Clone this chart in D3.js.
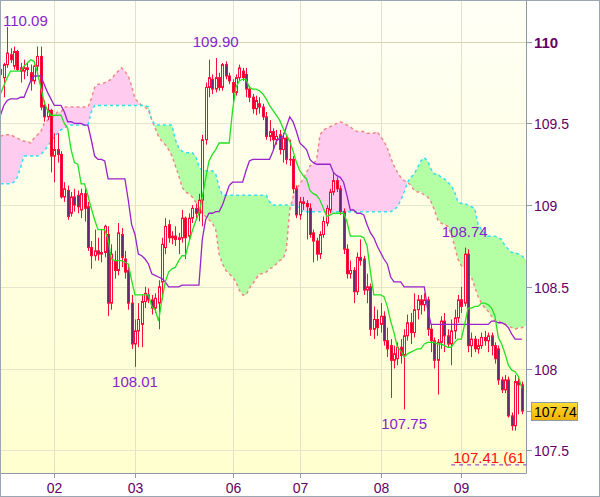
<!DOCTYPE html>
<html><head><meta charset="utf-8">
<script src="https://cdn.jsdelivr.net/npm/d3@7"></script>
<style>body{margin:0;background:#fff}svg{display:block}</style>
</head><body>
<svg id="c" width="600" height="497"></svg>
<script>
// ---------- data ----------
const days = ["02","03","06","07","08","09"];
const dayIndex = [16,40,69,89,113,137];
const priceTicks = [107.5,108,108.5,109,109.5,110];
const boldTick = 110;
const lastPrice = 107.74;
const fibLevel = 107.41, fibText = "107.41 (61.", fibStart = 134;
const highMarks = [2,64,138];
const lowMarks = [40,120];

const open = [109.80,109.78,109.86,109.92,109.85,109.94,109.84,109.82,109.84,109.81,
109.76,109.85,109.91,109.61,109.54,109.58,109.30,109.34,109.31,109.05,
109.09,108.95,109.05,109.06,108.97,109.07,108.99,108.74,108.69,108.72,
108.70,108.71,108.82,108.40,108.66,108.60,108.82,108.67,108.60,108.40,
108.15,108.23,108.27,108.41,108.45,108.42,108.37,108.40,108.53,108.74,
108.88,108.80,108.81,108.79,108.80,108.92,108.81,108.92,108.98,108.95,
109.03,109.40,109.72,109.77,109.71,109.78,109.72,109.86,109.79,109.75,
109.69,109.78,109.82,109.80,109.71,109.66,109.59,109.62,109.60,109.54,
109.42,109.45,109.40,109.43,109.34,109.41,109.28,109.28,109.10,108.94,
109.02,109.01,108.98,108.83,108.78,108.70,108.82,108.89,108.97,109.08,
109.15,109.10,108.96,108.73,108.58,108.60,108.47,108.68,108.67,108.48,
108.50,108.24,108.30,108.27,108.32,108.17,108.14,108.05,108.06,108.13,
108.08,108.20,108.28,108.22,108.36,108.42,108.39,108.42,108.24,108.17,
108.05,108.16,108.29,108.20,108.15,108.23,108.31,108.42,108.40,108.70,
108.14,108.18,108.12,108.14,108.19,108.17,108.20,108.14,108.12,107.93,
107.87,107.93,107.71,107.65,107.92,107.90];
const high = [109.89,109.87,110.09,109.96,109.97,109.95,109.87,109.89,109.87,109.86,
109.86,109.97,109.97,109.64,109.62,109.59,109.44,109.44,109.33,109.14,
109.12,109.08,109.10,109.09,109.10,109.11,109.02,108.78,108.85,108.80,
108.85,108.88,108.87,108.76,108.72,108.89,108.86,108.72,108.63,108.45,
108.30,108.40,108.45,108.50,108.49,108.45,108.46,108.54,108.80,108.92,
108.91,108.84,108.87,108.83,108.97,108.93,108.95,109.00,109.01,109.07,
109.43,109.75,109.89,109.80,109.90,109.81,109.87,109.88,109.81,109.77,
109.80,109.86,109.84,109.84,109.73,109.68,109.67,109.66,109.62,109.57,
109.52,109.47,109.46,109.46,109.44,109.43,109.40,109.30,109.12,109.05,
109.05,109.03,109.01,108.85,108.80,108.84,108.93,109.00,109.10,109.20,
109.17,109.12,108.98,108.76,108.66,108.62,108.71,108.79,108.69,108.58,
108.52,108.38,108.36,108.40,108.35,108.25,108.18,108.14,108.16,108.18,
108.24,108.33,108.34,108.46,108.45,108.45,108.46,108.44,108.27,108.19,
108.18,108.32,108.34,108.24,108.30,108.36,108.45,108.50,108.74,108.73,
108.22,108.20,108.18,108.22,108.23,108.22,108.22,108.16,108.14,107.95,
107.96,107.95,107.73,107.96,107.95,107.92];
const low = [109.68,109.66,109.84,109.87,109.83,109.82,109.75,109.77,109.79,109.70,
109.74,109.82,109.58,109.51,109.52,109.20,109.14,109.26,109.04,109.02,
108.91,108.93,108.96,108.95,108.92,108.90,108.72,108.61,108.66,108.66,
108.65,108.68,108.32,108.36,108.55,108.57,108.62,108.55,108.36,108.12,
108.01,108.13,108.13,108.37,108.40,108.33,108.34,108.24,108.42,108.70,
108.77,108.76,108.75,108.70,108.77,108.67,108.78,108.89,108.91,108.90,
108.87,109.37,109.66,109.68,109.69,109.70,109.70,109.77,109.74,109.63,
109.67,109.76,109.76,109.66,109.63,109.56,109.55,109.56,109.52,109.40,
109.39,109.34,109.37,109.31,109.26,109.25,109.24,109.07,108.92,108.91,
108.97,108.79,108.80,108.65,108.66,108.67,108.80,108.87,108.95,109.06,
109.08,108.94,108.70,108.55,108.55,108.40,108.45,108.63,108.45,108.40,
108.20,108.18,108.20,108.22,108.14,108.07,107.82,108.00,108.02,108.03,
107.75,108.17,108.15,108.19,108.30,108.33,108.35,108.20,108.10,108.00,
107.84,108.12,108.10,108.13,108.02,108.18,108.28,108.34,108.38,108.10,
108.07,108.10,108.09,108.12,108.14,108.10,108.08,108.03,107.90,107.85,
107.85,107.70,107.62,107.62,107.72,107.72];
const close = [109.83,109.86,109.93,109.89,109.94,109.83,109.82,109.84,109.83,109.76,
109.85,109.91,109.60,109.54,109.58,109.30,109.34,109.31,109.05,109.10,
108.93,109.05,109.00,108.99,109.07,108.98,108.74,108.69,108.72,108.70,
108.71,108.87,108.40,108.70,108.60,108.83,108.68,108.59,108.40,108.15,
108.23,108.30,108.41,108.46,108.42,108.37,108.43,108.50,108.76,108.87,
108.80,108.81,108.79,108.80,108.92,108.80,108.92,108.98,108.95,109.03,
109.40,109.72,109.78,109.71,109.78,109.72,109.86,109.79,109.76,109.69,
109.78,109.84,109.78,109.71,109.66,109.59,109.64,109.60,109.54,109.42,
109.45,109.40,109.42,109.34,109.41,109.28,109.28,109.10,108.94,109.02,
109.01,108.99,108.82,108.78,108.70,108.82,108.90,108.98,109.08,109.15,
109.10,108.96,108.73,108.58,108.60,108.47,108.68,108.66,108.48,108.50,
108.24,108.30,108.25,108.32,108.17,108.12,108.05,108.09,108.13,108.08,
108.20,108.28,108.22,108.36,108.42,108.39,108.42,108.24,108.17,108.05,
108.16,108.29,108.20,108.15,108.23,108.31,108.42,108.38,108.70,108.14,
108.18,108.12,108.14,108.19,108.17,108.20,108.14,108.06,107.93,107.87,
107.93,107.71,107.65,107.92,107.90,107.74];
const tenkan = [109.68,109.73,109.78,109.82,109.82,109.82,109.82,109.85,109.87,109.89,
109.88,109.81,109.72,109.63,109.58,109.55,109.55,109.55,109.55,109.50,
109.47,109.34,109.26,109.25,109.13,109.13,109.06,108.98,108.91,108.85,
108.85,108.85,108.79,108.67,108.66,108.66,108.66,108.65,108.64,108.54,
108.45,108.45,108.45,108.45,108.45,108.38,108.36,108.29,108.42,108.53,
108.59,108.61,108.62,108.66,108.69,108.69,108.77,108.84,108.90,108.95,
109.05,109.16,109.27,109.31,109.34,109.38,109.38,109.38,109.38,109.58,
109.72,109.76,109.77,109.77,109.72,109.71,109.71,109.70,109.68,109.65,
109.61,109.58,109.55,109.52,109.47,109.43,109.39,109.33,109.26,109.21,
109.18,109.16,109.09,109.07,109.06,109.03,108.98,108.93,108.94,108.95,
108.95,108.95,108.95,108.90,108.81,108.81,108.81,108.81,108.80,108.75,
108.59,108.45,108.45,108.45,108.44,108.38,108.29,108.22,108.13,108.11,
108.07,108.09,108.10,108.11,108.12,108.12,108.15,108.16,108.16,108.16,
108.15,108.15,108.14,108.13,108.13,108.16,108.18,108.18,108.27,108.37,
108.37,108.38,108.38,108.40,108.40,108.39,108.37,108.32,108.19,108.15,
108.09,108.02,107.99,107.98,107.95,107.88];
const kijun = [109.55,109.61,109.64,109.65,109.65,109.65,109.66,109.66,109.71,109.76,
109.79,109.79,109.79,109.74,109.69,109.65,109.61,109.61,109.61,109.57,
109.51,109.51,109.50,109.50,109.50,109.49,109.49,109.40,109.30,109.28,
109.28,109.27,109.16,109.16,109.16,109.16,109.16,109.16,109.03,108.88,
108.82,108.70,108.69,108.67,108.64,108.58,108.57,108.56,108.55,108.53,
108.50,108.50,108.50,108.50,108.51,108.51,108.51,108.51,108.51,108.51,
108.79,108.91,108.95,108.95,108.96,108.96,109.00,109.06,109.12,109.14,
109.14,109.14,109.14,109.21,109.27,109.28,109.28,109.28,109.28,109.28,
109.28,109.33,109.39,109.41,109.42,109.48,109.54,109.51,109.45,109.38,
109.36,109.34,109.28,109.26,109.25,109.25,109.25,109.25,109.25,109.20,
109.18,109.17,109.14,109.06,108.97,108.97,108.95,108.95,108.94,108.88,
108.83,108.80,108.75,108.71,108.67,108.64,108.56,108.53,108.53,108.53,
108.50,108.50,108.50,108.50,108.50,108.50,108.50,108.36,108.27,108.27,
108.27,108.27,108.27,108.27,108.27,108.27,108.27,108.27,108.27,108.27,
108.27,108.27,108.27,108.27,108.27,108.27,108.29,108.29,108.28,108.28,
108.27,108.25,108.21,108.18,108.18,108.18];
const spanA = [109.13,109.13,109.13,109.13,109.14,109.17,109.23,109.30,109.30,109.30,
109.30,109.30,109.31,109.33,109.36,109.39,109.42,109.44,109.46,109.47,
109.49,109.49,109.49,109.49,109.49,109.49,109.49,109.57,109.61,109.61,
109.61,109.61,109.61,109.61,109.61,109.61,109.61,109.61,109.61,109.61,
109.61,109.61,109.61,109.61,109.60,109.52,109.49,109.49,109.49,109.49,
109.49,109.49,109.40,109.35,109.33,109.32,109.32,109.32,109.30,109.24,
109.21,109.21,109.21,109.21,109.19,109.11,109.06,109.06,109.06,109.06,
109.06,109.06,109.06,109.06,109.06,109.06,109.06,109.06,109.06,109.06,
109.02,109.00,109.00,109.00,109.00,109.00,109.00,109.00,109.00,108.97,
108.96,108.96,108.96,108.96,108.96,108.96,108.96,108.96,108.96,108.96,
108.96,108.96,108.96,108.96,108.96,108.96,108.96,108.96,108.96,108.96,
108.96,108.96,108.96,108.96,108.96,108.96,108.96,108.97,108.99,109.03,
109.08,109.14,109.17,109.19,109.23,109.27,109.29,109.27,109.22,109.19,
109.19,109.17,109.16,109.14,109.12,109.08,109.02,109.01,109.01,109.00,
108.99,108.98,108.88,108.85,108.83,108.81,108.81,108.81,108.80,108.79,
108.75,108.73,108.71,108.71,108.70,108.69,108.67,108.66];
const spanB = [109.42,109.43,109.43,109.43,109.42,109.41,109.40,109.39,109.39,109.38,
109.41,109.43,109.45,109.50,109.52,109.54,109.55,109.57,109.57,109.60,
109.60,109.60,109.60,109.60,109.60,109.60,109.60,109.65,109.72,109.74,
109.74,109.75,109.76,109.77,109.80,109.82,109.84,109.82,109.79,109.73,
109.65,109.63,109.61,109.60,109.58,109.52,109.47,109.42,109.39,109.37,
109.34,109.30,109.24,109.18,109.11,109.08,109.07,109.05,109.02,108.99,
108.95,108.93,108.91,108.89,108.85,108.70,108.64,108.60,108.58,108.56,
108.53,108.48,108.45,108.45,108.49,108.52,108.55,108.58,108.58,108.59,
108.61,108.62,108.64,108.66,108.67,108.73,108.97,109.05,109.10,109.13,
109.16,109.20,109.24,109.25,109.28,109.43,109.46,109.47,109.48,109.49,
109.50,109.51,109.50,109.49,109.48,109.46,109.45,109.45,109.45,109.44,
109.44,109.44,109.45,109.42,109.39,109.35,109.29,109.24,109.20,109.17,
109.15,109.14,109.12,109.09,109.08,109.08,109.06,109.05,109.02,108.97,
108.91,108.89,108.88,108.87,108.82,108.75,108.67,108.63,108.61,108.58,
108.56,108.50,108.44,108.40,108.37,108.35,108.32,108.29,108.29,108.28,
108.27,108.26,108.25,108.24,108.25,108.25,108.26,108.27];

// ---------- layout ----------
const plotL = 1, plotT = 1, plotR = 526, plotB = 473;
const x = d3.scaleLinear().domain([0, 155]).range([0.44, 521.86]);
const y = d3.scaleLinear().domain([107.5, 110]).range([450.2, 41.7]);
const font = "'Liberation Sans', Arial, sans-serif";
const fmt = d3.format(".2f");

const svg = d3.select("#c");
const defs = svg.append("defs");
const bg = defs.append("linearGradient").attr("id","bg").attr("x1",0).attr("y1",0).attr("x2",0).attr("y2",1);
bg.append("stop").attr("offset","0%").attr("stop-color","#fffff6");
bg.append("stop").attr("offset","100%").attr("stop-color","#ffffcf");
const gold = defs.append("linearGradient").attr("id","gold").attr("x1",0).attr("y1",0).attr("x2",0).attr("y2",1);
gold.append("stop").attr("offset","0%").attr("stop-color","#ffdd33");
gold.append("stop").attr("offset","100%").attr("stop-color","#f0b000");
defs.append("clipPath").attr("id","plotClip").append("rect")
  .attr("x",plotL).attr("y",plotT).attr("width",plotR-plotL).attr("height",plotB-plotT);
const cIdx = d3.range(spanA.length);
defs.append("clipPath").attr("id","aboveA").append("path")
  .attr("d", d3.area().x(i=>x(i)).y0(0).y1(i=>y(spanA[i]))(cIdx));
defs.append("clipPath").attr("id","aboveB").append("path")
  .attr("d", d3.area().x(i=>x(i)).y0(0).y1(i=>y(spanB[i]))(cIdx));

svg.append("rect").attr("width",600).attr("height",497).attr("fill","#fff");
svg.append("rect").attr("x",plotL).attr("y",plotT).attr("width",plotR-plotL).attr("height",plotB-plotT).attr("fill","url(#bg)");

// grid
const grid = svg.append("g");
priceTicks.forEach(v=>{
  const yy = Math.round(y(v))+0.5;
  grid.append("line").attr("x1",plotL).attr("x2",plotR).attr("y1",yy).attr("y2",yy)
    .attr("stroke", v===boldTick ? "#d6d6b0" : "#e6e6cc").attr("stroke-width",1);
});
dayIndex.forEach(i=>{
  const xx = Math.round(x(i))+0.5;
  grid.append("line").attr("x1",xx).attr("x2",xx).attr("y1",plotT).attr("y2",plotB)
    .attr("stroke","#e2e2cc").attr("stroke-width",1);
});

const pg = svg.append("g").attr("clip-path","url(#plotClip)");
// cloud
const band = d3.area().x(i=>x(i)).y0(i=>y(spanA[i])).y1(i=>y(spanB[i]));
pg.append("path").attr("d", band(cIdx)).attr("fill","#b4ffa4").attr("clip-path","url(#aboveB)");
pg.append("path").attr("d", band(cIdx)).attr("fill","#ffccf0").attr("clip-path","url(#aboveA)");
const lineOf = arr => d3.line().x((d,i)=>x(i)).y(d=>y(d))(arr);
pg.append("path").attr("d", lineOf(spanB)).attr("fill","none").attr("stroke","#f08888")
  .attr("stroke-width",1.5).attr("stroke-dasharray","3,3");
pg.append("path").attr("d", lineOf(spanA)).attr("fill","none").attr("stroke","#33e0f0")
  .attr("stroke-width",1.5).attr("stroke-dasharray","3,3");

// candles
const cg = pg.append("g");
open.forEach((o,i)=>{
  const c = close[i];
  const cx = Math.round(x(i))+0.5;
  cg.append("line").attr("x1",cx).attr("x2",cx).attr("y1",y(high[i])).attr("y2",y(low[i]))
    .attr("stroke","#ff0a3c").attr("stroke-width",1);
  const yt = y(Math.max(o,c)), yb = y(Math.min(o,c));
  cg.append("rect").attr("x",cx-1).attr("width",2).attr("y",yt).attr("height",Math.max(0.5,yb-yt))
    .attr("fill", c<o ? "#632a73" : "#fffff0").attr("stroke","#ff0a3c").attr("stroke-width",1);
});

// ichimoku lines
pg.append("path").attr("d", lineOf(kijun)).attr("fill","none").attr("stroke","#9922cc").attr("stroke-width",1.3);
pg.append("path").attr("d", lineOf(tenkan)).attr("fill","none").attr("stroke","#22e022").attr("stroke-width",1.3);

// fib line
pg.append("line").attr("x1",x(fibStart)).attr("x2",plotR).attr("y1",y(fibLevel)).attr("y2",y(fibLevel))
  .attr("stroke","#8822cc").attr("stroke-width",1).attr("stroke-dasharray","4,4");
pg.append("text").attr("x",x(fibStart)+2).attr("y",y(fibLevel)-2).attr("fill","#ff1010")
  .attr("font-family",font).attr("font-size",15).text(fibText);

// high / low labels
highMarks.forEach(i=>{
  const t = svg.append("text").attr("font-family",font).attr("font-size",15).attr("fill","#8822cc").text(fmt(high[i]));
  const w = t.node().getComputedTextLength();
  const xs = Math.max(3, x(i)-w/2);
  t.attr("x",xs).attr("y",Math.max(26, y(high[i])-11));
});
lowMarks.forEach(i=>{
  const t = svg.append("text").attr("font-family",font).attr("font-size",15).attr("fill","#8822cc").text(fmt(low[i]));
  const w = t.node().getComputedTextLength();
  t.attr("x",x(i)-w/2).attr("y",y(low[i])+20);
});

// axes
const ax = svg.append("g");
ax.append("line").attr("x1",plotR+0.5).attr("x2",plotR+0.5).attr("y1",0).attr("y2",plotB+0.5).attr("stroke","#8e9aa6");
ax.append("line").attr("x1",0).attr("x2",plotR+0.5).attr("y1",plotB+0.5).attr("y2",plotB+0.5).attr("stroke","#8e9aa6");
priceTicks.forEach(v=>{
  const yy = Math.round(y(v))+0.5;
  ax.append("line").attr("x1",plotR).attr("x2",plotR+6).attr("y1",yy).attr("y2",yy).attr("stroke","#8e9aa6");
  ax.append("text").attr("x",534).attr("y",yy+5).attr("font-family",font)
    .attr("font-size", v===boldTick?15:14).attr("font-weight", v===boldTick?"bold":"normal")
    .attr("fill","#660066").text(d3.format("")(v));
});
dayIndex.forEach((i,k)=>{
  const xx = Math.round(x(i))+0.5;
  ax.append("line").attr("x1",xx).attr("x2",xx).attr("y1",plotB).attr("y2",plotB+5).attr("stroke","#8e9aa6");
  ax.append("text").attr("x",xx).attr("y",493).attr("text-anchor","middle").attr("font-family",font)
    .attr("font-size",14).attr("fill","#660066").text(days[k]);
});
// current price box
const yl = Math.round(y(lastPrice))+0.5;
ax.append("line").attr("x1",plotR).attr("x2",531).attr("y1",yl).attr("y2",yl).attr("stroke","#8e9aa6");
ax.append("rect").attr("x",531.5).attr("y",yl-9).attr("width",46).attr("height",18)
  .attr("fill","url(#gold)").attr("stroke","#8e9aa6");
ax.append("text").attr("x",534).attr("y",yl+5).attr("font-family",font).attr("font-size",14)
  .attr("fill","#000").text(fmt(lastPrice));

// outer border
svg.append("rect").attr("x",0.5).attr("y",0.5).attr("width",599).attr("height",496)
  .attr("fill","none").attr("stroke","#9aa6b2");
</script>
</body></html>
